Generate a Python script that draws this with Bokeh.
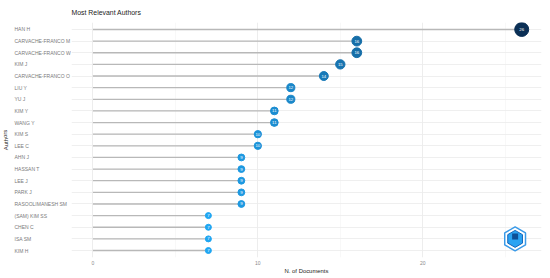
from bokeh.plotting import figure
from bokeh.layouts import row
from bokeh.models import Range1d, FactorRange, FixedTicker, ColumnDataSource
from bokeh.core.properties import value
from bokeh.embed import file_html
from bokeh.resources import INLINE

authors = ["HAN H", "CARVACHE-FRANCO M", "CARVACHE-FRANCO W", "KIM J", "CARVACHE-FRANCO O",
           "LIU Y", "YU J", "KIM Y", "WANG Y", "KIM S", "LEE C", "AHN J", "HASSAN T",
           "LEE J", "PARK J", "RASOOLIMANESH SM", "(SAM) KIM SS", "CHEN C", "ISA SM", "KIM H"]
docs = [26, 16, 16, 15, 14, 12, 12, 11, 11, 10, 10, 9, 9, 9, 9, 9, 7, 7, 7, 7]
x_ticks = [0, 10, 20]
x_minor = [5, 15, 25]

FONT = "Liberation Sans"
W = 550
H = 278
TOP = 21
BOTTOM = 21
LW = 71
lo_col = (31, 166, 242)
hi_col = (11, 47, 85)
vmin, vmax = min(docs), max(docs)

def col(v):
    t = (v - vmin) / (vmax - vmin)
    c = [round(a + (b - a) * t) for a, b in zip(lo_col, hi_col)]
    return "#%02x%02x%02x" % tuple(c)

src = ColumnDataSource(dict(
    author=authors,
    docs=docs,
    zero=[0] * len(docs),
    name_x=[14] * len(docs),
    color=[col(v) for v in docs],
    size=[6 + (v - vmin) * 0.42 for v in docs],
    lbl=[str(v) for v in docs],
))

yr = FactorRange(*list(reversed(authors)), range_padding=0.01)

# ---- left panel with the author names ----
left = figure(width=LW, height=H, output_backend="svg", toolbar_location=None,
              x_range=Range1d(0, LW), y_range=yr,
              min_border_left=0, min_border_right=0, min_border_top=TOP, min_border_bottom=BOTTOM)
left.outline_line_color = None
left.xaxis.visible = False
left.yaxis.visible = False
left.grid.visible = False
left.text(x="name_x", y="author", text="author", source=src,
          text_font=value(FONT), text_font_size="5px", text_color="#7a7a7a",
          text_align="left", text_baseline="middle")
left.text(x=[5], y=[["KIM S", -0.5]], text=["Authors"], angle=1.5708,
          text_font=value(FONT), text_font_size="6px", text_color="#222222",
          text_align="center", text_baseline="middle")

# ---- main panel ----
p = figure(width=W - LW, height=H, output_backend="svg", toolbar_location=None,
           x_range=Range1d(-1.3, 27.2), y_range=yr,
           min_border_left=0, min_border_right=9, min_border_top=TOP, min_border_bottom=BOTTOM)
p.outline_line_color = None

p.title.text = "Most Relevant Authors"
p.title.text_font = FONT
p.title.text_font_size = "6.9px"
p.title.text_font_style = "normal"
p.title.text_color = "#222222"
p.title.align = "left"
p.title.offset = 0
p.title.standoff = 13

p.xgrid.grid_line_color = "#e8e8e8"
p.xgrid.grid_line_width = 0.8
p.xgrid.minor_grid_line_color = "#f3f3f3"
p.xgrid.minor_grid_line_width = 0.6
p.ygrid.grid_line_color = "#ebebeb"
p.ygrid.grid_line_width = 0.8
p.yaxis.visible = False

ax = p.xaxis[0]
ax.ticker = FixedTicker(ticks=x_ticks, minor_ticks=x_minor)
ax.axis_label = "N. of Documents"
ax.axis_label_text_font = FONT
ax.axis_label_text_font_size = "5.9px"
ax.axis_label_text_font_style = "normal"
ax.axis_label_text_color = "#222222"
ax.axis_label_standoff = 0
ax.major_label_text_font = FONT
ax.major_label_text_font_size = "5px"
ax.major_label_text_color = "#8a8a8a"
ax.major_label_standoff = 3
ax.axis_line_color = None
ax.major_tick_line_color = None
ax.minor_tick_line_color = None
ax.major_tick_out = 0
ax.major_tick_in = 0
ax.minor_tick_out = 0
ax.minor_tick_in = 0

p.segment(x0="zero", y0="author", x1="docs", y1="author", source=src,
          line_color="#b8b8b8", line_width=1.3)
p.scatter(x="docs", y="author", size="size", fill_color="color", line_color="color",
          source=src)
p.text(x="docs", y="author", text="lbl", source=src, text_color="white",
       text_font=value(FONT), text_font_size="4.3px",
       text_align="center", text_baseline="middle")

# decorative logo
p.scatter(x=[25.6], y=["ISA SM"], marker="hex", size=24, fill_color="white",
          line_color="#3a9ae8", line_width=1.5, angle=1.5708)
p.scatter(x=[25.6], y=["ISA SM"], marker="hex", size=17, fill_color="#2aa3f2",
          line_color="#1565b8", line_width=1.0, angle=1.5708)
p.scatter(x=[25.6], y=[["ISA SM", 0.2]], marker="square", size=6, fill_color="#0d4f96",
          line_color=None)

open("out.html", "w").write(file_html(row(left, p), INLINE))
